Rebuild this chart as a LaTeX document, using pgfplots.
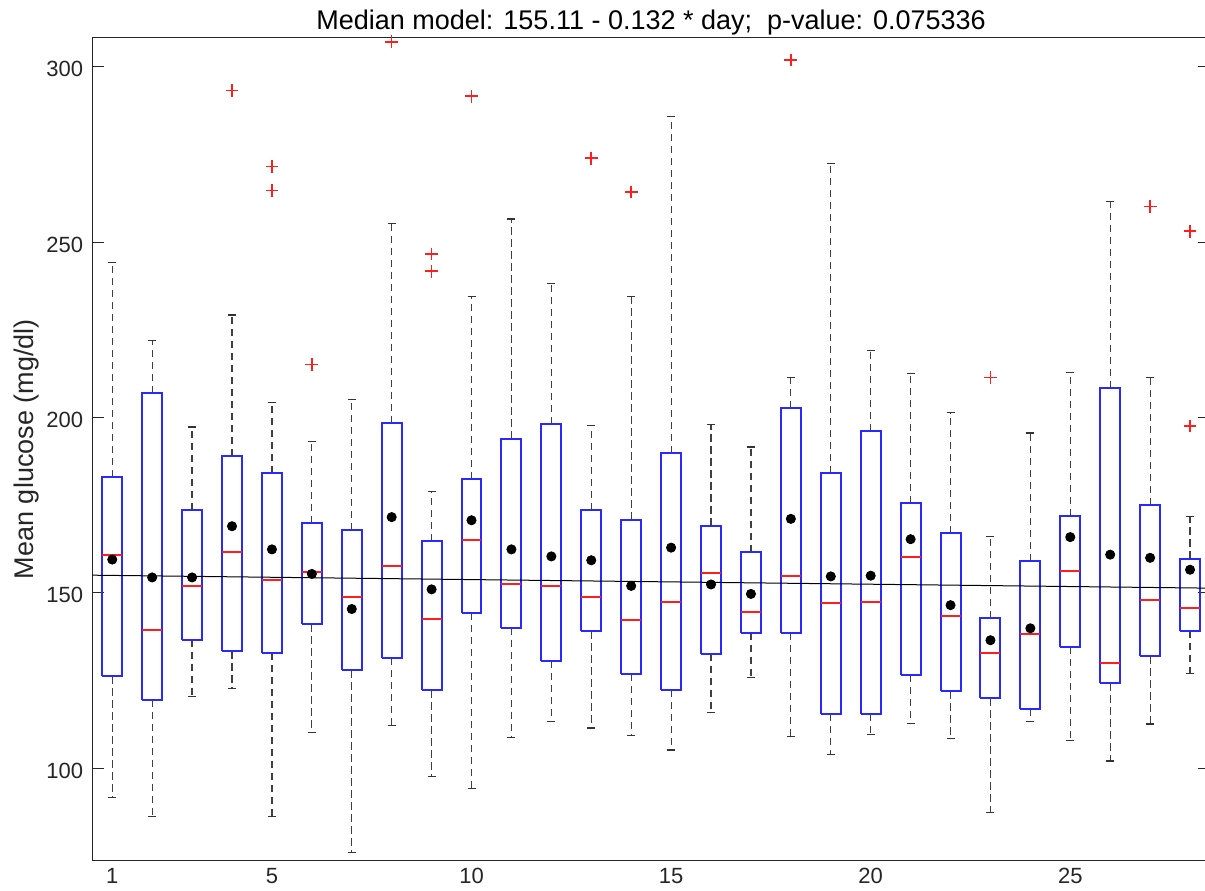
\documentclass[border=0pt]{standalone}
\usepackage{pgfplots}
\pgfplotsset{compat=1.18}
\usepackage{fontspec}
\setmainfont{Liberation Sans}
\definecolor{axgray}{RGB}{38,38,38}
\definecolor{mblue}{RGB}{40,40,255}
\definecolor{mred}{RGB}{255,30,30}
\begin{document}
\begin{tikzpicture}
\fill[white] (-46.15pt,-14.65pt) rectangle (560pt,430.35pt);
\begin{axis}[
  scale only axis,
  width=558.85pt, height=411.5pt,
  xmin=0.5, xmax=28.5,
  ymin=73.65, ymax=308.27,
  unbounded coords=jump,
  axis background/.style={fill=white},
  xtick={1,5,10,15,20,25},
  ytick={100,150,200,250,300},
  x tick style={draw=none},
  y tick style={draw=axgray, line width=0.5pt},
  major tick length=6pt,
  tick align=inside,
  axis line style={draw=axgray, line width=0.5pt},
  /pgf/number format/assume math mode=true,
  tick label style={font=\fontsize{11}{13}\selectfont, text=axgray},
  xticklabel style={anchor=base, yshift=-11.3pt},
  yticklabel style={anchor=east, xshift=-1.1pt, yshift=-1.2pt},
  title={Median model: 155.11 - 0.132 * day;\ \ p-value: 0.075336},
  title style={font=\fontsize{13.5}{16}\selectfont, at={(0.5,1)}, anchor=base, yshift=-1.8pt},
  ylabel={Mean glucose (mg/dl)},
  ylabel style={font=\fontsize{13.5}{16}\selectfont, text=axgray,
    at={(axis description cs:-0.05279,0.5)}, anchor=base},
]
% whiskers (box edge to whisker end)
\addplot[black!75, line width=0.6pt, dash pattern=on 3.6pt off 2.4pt] coordinates {
(1,182.9) (1,244.1) (1,nan) (1,126.2) (1,91.7) (1,nan)
(2,207.0) (2,222.0) (2,nan) (2,119.4) (2,86.2) (2,nan)
(3,173.6) (3,197.3) (3,nan) (3,136.7) (3,120.5) (3,nan)
(4,189.0) (4,229.2) (4,nan) (4,133.3) (4,122.7) (4,nan)
(5,184.1) (5,204.2) (5,nan) (5,133.0) (5,86.2) (5,nan)
(6,170.0) (6,193.2) (6,nan) (6,141.0) (6,110.2) (6,nan)
(7,167.9) (7,205.1) (7,nan) (7,127.9) (7,76.0) (7,nan)
(8,198.5) (8,255.3) (8,nan) (8,131.4) (8,112.2) (8,nan)
(9,164.7) (9,178.8) (9,nan) (9,122.2) (9,97.7) (9,nan)
(10,182.5) (10,234.6) (10,nan) (10,144.3) (10,94.2) (10,nan)
(11,194.0) (11,256.6) (11,nan) (11,140.1) (11,108.8) (11,nan)
(12,198.1) (12,238.2) (12,nan) (12,130.6) (12,113.3) (12,nan)
(13,173.5) (13,197.8) (13,nan) (13,139.0) (13,111.5) (13,nan)
(14,170.9) (14,234.4) (14,nan) (14,126.9) (14,109.3) (14,nan)
(15,189.9) (15,285.9) (15,nan) (15,122.3) (15,105.2) (15,nan)
(16,169.2) (16,198.1) (16,nan) (16,132.7) (16,115.9) (16,nan)
(17,161.7) (17,191.6) (17,nan) (17,138.6) (17,125.8) (17,nan)
(18,202.6) (18,211.3) (18,nan) (18,138.7) (18,109.0) (18,nan)
(19,184.2) (19,272.4) (19,nan) (19,115.6) (19,103.9) (19,nan)
(20,196.1) (20,219.2) (20,nan) (20,115.6) (20,109.7) (20,nan)
(21,175.5) (21,212.5) (21,nan) (21,126.7) (21,112.7) (21,nan)
(22,167.1) (22,201.4) (22,nan) (22,121.9) (22,108.6) (22,nan)
(23,142.7) (23,166.1) (23,nan) (23,119.9) (23,87.3) (23,nan)
(24,159.1) (24,195.6) (24,nan) (24,117.0) (24,113.4) (24,nan)
(25,172.0) (25,212.8) (25,nan) (25,134.6) (25,108.0) (25,nan)
(26,208.4) (26,261.6) (26,nan) (26,124.2) (26,102.1) (26,nan)
(27,175.0) (27,211.4) (27,nan) (27,131.9) (27,112.6) (27,nan)
(28,159.8) (28,171.8) (28,nan) (28,139.1) (28,127.0)};
% whisker caps
\addplot[black!80, line width=0.6pt] coordinates {
(0.9,244.1) (1.1,244.1) (1,nan) (0.9,91.7) (1.1,91.7) (1,nan)
(1.9,222.0) (2.1,222.0) (2,nan) (1.9,86.2) (2.1,86.2) (2,nan)
(2.9,197.3) (3.1,197.3) (3,nan) (2.9,120.5) (3.1,120.5) (3,nan)
(3.9,229.2) (4.1,229.2) (4,nan) (3.9,122.7) (4.1,122.7) (4,nan)
(4.9,204.2) (5.1,204.2) (5,nan) (4.9,86.2) (5.1,86.2) (5,nan)
(5.9,193.2) (6.1,193.2) (6,nan) (5.9,110.2) (6.1,110.2) (6,nan)
(6.9,205.1) (7.1,205.1) (7,nan) (6.9,76.0) (7.1,76.0) (7,nan)
(7.9,255.3) (8.1,255.3) (8,nan) (7.9,112.2) (8.1,112.2) (8,nan)
(8.9,178.8) (9.1,178.8) (9,nan) (8.9,97.7) (9.1,97.7) (9,nan)
(9.9,234.6) (10.1,234.6) (10,nan) (9.9,94.2) (10.1,94.2) (10,nan)
(10.9,256.6) (11.1,256.6) (11,nan) (10.9,108.8) (11.1,108.8) (11,nan)
(11.9,238.2) (12.1,238.2) (12,nan) (11.9,113.3) (12.1,113.3) (12,nan)
(12.9,197.8) (13.1,197.8) (13,nan) (12.9,111.5) (13.1,111.5) (13,nan)
(13.9,234.4) (14.1,234.4) (14,nan) (13.9,109.3) (14.1,109.3) (14,nan)
(14.9,285.9) (15.1,285.9) (15,nan) (14.9,105.2) (15.1,105.2) (15,nan)
(15.9,198.1) (16.1,198.1) (16,nan) (15.9,115.9) (16.1,115.9) (16,nan)
(16.9,191.6) (17.1,191.6) (17,nan) (16.9,125.8) (17.1,125.8) (17,nan)
(17.9,211.3) (18.1,211.3) (18,nan) (17.9,109.0) (18.1,109.0) (18,nan)
(18.9,272.4) (19.1,272.4) (19,nan) (18.9,103.9) (19.1,103.9) (19,nan)
(19.9,219.2) (20.1,219.2) (20,nan) (19.9,109.7) (20.1,109.7) (20,nan)
(20.9,212.5) (21.1,212.5) (21,nan) (20.9,112.7) (21.1,112.7) (21,nan)
(21.9,201.4) (22.1,201.4) (22,nan) (21.9,108.6) (22.1,108.6) (22,nan)
(22.9,166.1) (23.1,166.1) (23,nan) (22.9,87.3) (23.1,87.3) (23,nan)
(23.9,195.6) (24.1,195.6) (24,nan) (23.9,113.4) (24.1,113.4) (24,nan)
(24.9,212.8) (25.1,212.8) (25,nan) (24.9,108.0) (25.1,108.0) (25,nan)
(25.9,261.6) (26.1,261.6) (26,nan) (25.9,102.1) (26.1,102.1) (26,nan)
(26.9,211.4) (27.1,211.4) (27,nan) (26.9,112.6) (27.1,112.6) (27,nan)
(27.9,171.8) (28.1,171.8) (28,nan) (27.9,127.0) (28.1,127.0)};
% boxes (lower quartile to upper quartile)
\addplot[mblue, line width=1pt, line join=miter] coordinates {
(0.75,126.2) (1.25,126.2) (1.25,182.9) (0.75,182.9) (0.75,126.2) (1,nan)
(1.75,119.4) (2.25,119.4) (2.25,207.0) (1.75,207.0) (1.75,119.4) (2,nan)
(2.75,136.7) (3.25,136.7) (3.25,173.6) (2.75,173.6) (2.75,136.7) (3,nan)
(3.75,133.3) (4.25,133.3) (4.25,189.0) (3.75,189.0) (3.75,133.3) (4,nan)
(4.75,133.0) (5.25,133.0) (5.25,184.1) (4.75,184.1) (4.75,133.0) (5,nan)
(5.75,141.0) (6.25,141.0) (6.25,170.0) (5.75,170.0) (5.75,141.0) (6,nan)
(6.75,127.9) (7.25,127.9) (7.25,167.9) (6.75,167.9) (6.75,127.9) (7,nan)
(7.75,131.4) (8.25,131.4) (8.25,198.5) (7.75,198.5) (7.75,131.4) (8,nan)
(8.75,122.2) (9.25,122.2) (9.25,164.7) (8.75,164.7) (8.75,122.2) (9,nan)
(9.75,144.3) (10.25,144.3) (10.25,182.5) (9.75,182.5) (9.75,144.3) (10,nan)
(10.75,140.1) (11.25,140.1) (11.25,194.0) (10.75,194.0) (10.75,140.1) (11,nan)
(11.75,130.6) (12.25,130.6) (12.25,198.1) (11.75,198.1) (11.75,130.6) (12,nan)
(12.75,139.0) (13.25,139.0) (13.25,173.5) (12.75,173.5) (12.75,139.0) (13,nan)
(13.75,126.9) (14.25,126.9) (14.25,170.9) (13.75,170.9) (13.75,126.9) (14,nan)
(14.75,122.3) (15.25,122.3) (15.25,189.9) (14.75,189.9) (14.75,122.3) (15,nan)
(15.75,132.7) (16.25,132.7) (16.25,169.2) (15.75,169.2) (15.75,132.7) (16,nan)
(16.75,138.6) (17.25,138.6) (17.25,161.7) (16.75,161.7) (16.75,138.6) (17,nan)
(17.75,138.7) (18.25,138.7) (18.25,202.6) (17.75,202.6) (17.75,138.7) (18,nan)
(18.75,115.6) (19.25,115.6) (19.25,184.2) (18.75,184.2) (18.75,115.6) (19,nan)
(19.75,115.6) (20.25,115.6) (20.25,196.1) (19.75,196.1) (19.75,115.6) (20,nan)
(20.75,126.7) (21.25,126.7) (21.25,175.5) (20.75,175.5) (20.75,126.7) (21,nan)
(21.75,121.9) (22.25,121.9) (22.25,167.1) (21.75,167.1) (21.75,121.9) (22,nan)
(22.75,119.9) (23.25,119.9) (23.25,142.7) (22.75,142.7) (22.75,119.9) (23,nan)
(23.75,117.0) (24.25,117.0) (24.25,159.1) (23.75,159.1) (23.75,117.0) (24,nan)
(24.75,134.6) (25.25,134.6) (25.25,172.0) (24.75,172.0) (24.75,134.6) (25,nan)
(25.75,124.2) (26.25,124.2) (26.25,208.4) (25.75,208.4) (25.75,124.2) (26,nan)
(26.75,131.9) (27.25,131.9) (27.25,175.0) (26.75,175.0) (26.75,131.9) (27,nan)
(27.75,139.1) (28.25,139.1) (28.25,159.8) (27.75,159.8) (27.75,139.1)};
% medians
\addplot[mred, line width=1pt] coordinates {
(0.75,160.7) (1.25,160.7) (1,nan) (1.75,139.3) (2.25,139.3) (2,nan)
(2.75,151.9) (3.25,151.9) (3,nan) (3.75,161.6) (4.25,161.6) (4,nan)
(4.75,153.8) (5.25,153.8) (5,nan) (5.75,156.0) (6.25,156.0) (6,nan)
(6.75,148.7) (7.25,148.7) (7,nan) (7.75,157.7) (8.25,157.7) (8,nan)
(8.75,142.6) (9.25,142.6) (9,nan) (9.75,165.0) (10.25,165.0) (10,nan)
(10.75,152.5) (11.25,152.5) (11,nan) (11.75,152.0) (12.25,152.0) (12,nan)
(12.75,148.8) (13.25,148.8) (13,nan) (13.75,142.3) (14.25,142.3) (14,nan)
(14.75,147.4) (15.25,147.4) (15,nan) (15.75,155.6) (16.25,155.6) (16,nan)
(16.75,144.5) (17.25,144.5) (17,nan) (17.75,154.7) (18.25,154.7) (18,nan)
(18.75,147.2) (19.25,147.2) (19,nan) (19.75,147.5) (20.25,147.5) (20,nan)
(20.75,160.1) (21.25,160.1) (21,nan) (21.75,143.3) (22.25,143.3) (22,nan)
(22.75,133.0) (23.25,133.0) (23,nan) (23.75,138.2) (24.25,138.2) (24,nan)
(24.75,156.2) (25.25,156.2) (25,nan) (25.75,129.9) (26.25,129.9) (26,nan)
(26.75,147.9) (27.25,147.9) (27,nan) (27.75,145.8) (28.25,145.8)};
% outliers
\addplot[only marks, mark=+, mark size=3.2pt, mred, mark options={line width=0.8pt}] coordinates {
(4,293.2) (5,271.5) (5,264.7) (6,215.1) (8,307.1) (9,246.6) (9,241.7) (10,291.6)
(13,273.9) (14,264.3) (18,301.9) (23,211.4) (27,260.1) (28,253.1) (28,197.6)};
% median regression line
\addplot[black, line width=0.5pt] coordinates {(0.5,155.044) (28.5,151.348)};
% means
\addplot[only marks, mark=*, mark size=2.3pt, black] coordinates {
(1,159.5) (2,154.4) (3,154.4) (4,169.0) (5,162.4) (6,155.4) (7,145.4) (8,171.6)
(9,151.0) (10,170.7) (11,162.4) (12,160.4) (13,159.3) (14,152.0) (15,162.9) (16,152.4)
(17,149.7) (18,171.1) (19,154.7) (20,154.9) (21,165.3) (22,146.5) (23,136.5) (24,139.9)
(25,165.9) (26,160.9) (27,160.0) (28,156.6)};
\end{axis}
\pgfresetboundingbox
\useasboundingbox (-46.15pt,-14.65pt) rectangle (556.35pt,430.35pt);
\end{tikzpicture}
\end{document}
